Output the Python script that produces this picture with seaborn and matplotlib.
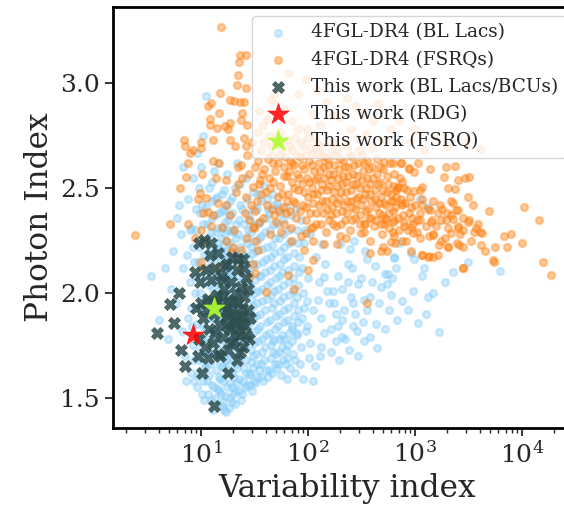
import numpy as np
import pandas as pd
import seaborn as sns
from matplotlib import pyplot as plt

# 4FGL-DR4 BL Lacs: (variability index, photon index)
bllac_left = [(3.4, 2.08), (4.6, 2.12), (4.0, 1.87), (4.9, 1.78), (5.5, 2.20), (6.0, 2.36), (6.8, 2.12),
              (6.5, 2.28), (7.2, 1.58), (7.5, 2.45), (6.8, 2.60), (5.8, 1.95), (7.0, 1.70), (7.8, 2.05),
              (6.2, 2.42), (7.6, 1.88), (5.2, 2.02), (7.9, 2.30), (6.6, 1.82), (7.3, 2.18)]
bllac_core = [(8.1, 1.62), (8.4, 1.75), (8.0, 1.93), (8.7, 2.08), (8.3, 2.22), (8.9, 2.40),
              (9.2, 1.55), (9.6, 1.68), (9.1, 1.85), (9.8, 2.00), (9.4, 2.15), (9.0, 2.30), (9.5, 2.50),
              (10.2, 1.52), (10.6, 1.64), (10.1, 1.78), (10.9, 1.90), (10.4, 2.05), (10.7, 2.18), (10.3, 2.33),
              (9.1, 2.67), (11.0, 2.94), (11.3, 1.58), (11.8, 1.72), (11.1, 1.83), (11.6, 1.96), (11.4, 2.12),
              (11.9, 2.26), (11.2, 2.41), (12.4, 1.49), (12.1, 1.66), (12.8, 1.76), (12.3, 1.88), (12.9, 2.02),
              (12.6, 2.10), (12.2, 2.22), (12.7, 2.36), (12.5, 2.53), (13.3, 1.55), (13.7, 1.70), (13.1, 1.81),
              (13.9, 1.93), (13.5, 2.05), (13.2, 2.16), (13.8, 2.29), (13.4, 2.45), (14.2, 1.47), (14.6, 1.60),
              (14.1, 1.74), (14.8, 1.86), (14.4, 1.99), (14.9, 2.13), (14.3, 2.24), (14.7, 2.38), (15.3, 1.52),
              (15.8, 1.65), (15.1, 1.78), (15.6, 1.90), (15.4, 2.03), (15.9, 2.11), (15.2, 2.20), (15.7, 2.31),
              (15.5, 2.47), (16.4, 1.44), (16.1, 1.58), (16.8, 1.70), (16.3, 1.82), (16.9, 1.95), (16.6, 2.07),
              (16.2, 2.18), (16.7, 2.28), (16.5, 2.40), (17.2, 1.43), (17.7, 1.62), (17.4, 1.75), (17.9, 1.87),
              (17.1, 2.00), (17.6, 2.14), (17.3, 2.25), (17.8, 2.35), (18.4, 1.50), (18.1, 1.66), (18.8, 1.79),
              (18.3, 1.91), (18.6, 2.04), (18.2, 2.17), (18.9, 2.30), (18.5, 2.44), (19.3, 1.55), (19.7, 1.69),
              (19.1, 1.83), (19.8, 1.97), (19.4, 2.09), (19.6, 2.21), (19.2, 2.38), (20.5, 1.47), (20.1, 1.60),
              (21.0, 1.72), (20.7, 1.85), (21.3, 1.98), (20.3, 2.12), (21.1, 2.26), (20.8, 2.50), (22.4, 1.53),
              (21.8, 1.64), (22.9, 1.76), (22.1, 1.89), (23.2, 2.01), (22.6, 2.15), (21.9, 2.28), (23.0, 2.42),
              (24.5, 1.58), (23.8, 1.70), (25.1, 1.82), (24.2, 1.94), (24.8, 2.06), (23.6, 2.19), (25.3, 2.33),
              (26.4, 1.62), (25.9, 1.74), (27.2, 1.86), (26.1, 1.99), (26.9, 2.11), (26.6, 2.24), (27.4, 2.37),
              (26.2, 2.55), (28.3, 1.56), (29.1, 1.67), (27.9, 1.79), (28.8, 1.91), (29.4, 2.03), (28.1, 2.16),
              (29.0, 2.29), (30.6, 1.64), (31.4, 1.76), (30.2, 1.88), (31.9, 2.00), (30.9, 2.13), (31.2, 2.25),
              (30.4, 2.40), (33.5, 1.60), (32.8, 1.71), (34.2, 1.83), (33.1, 1.95), (34.6, 2.08), (32.5, 2.20),
              (33.8, 2.33), (36.2, 1.66), (37.1, 1.78), (35.7, 1.90), (36.8, 2.02), (37.5, 2.15), (35.9, 2.27),
              (36.5, 2.44), (40.3, 1.63), (39.2, 1.74), (41.5, 1.86), (40.8, 1.97), (39.6, 2.10), (41.1, 2.22),
              (40.1, 2.36), (44.5, 1.69), (43.2, 1.81), (45.6, 1.93), (44.1, 2.05), (45.1, 2.17), (43.6, 2.30),
              (48.6, 1.66), (47.3, 1.77), (49.5, 1.89), (48.1, 2.01), (47.8, 2.13), (49.1, 2.26), (48.4, 2.42),
              (53.4, 1.72), (52.1, 1.84), (54.6, 1.96), (53.0, 2.08), (54.1, 2.20), (52.6, 2.33), (58.5, 1.68),
              (57.2, 1.80), (59.6, 1.92), (58.0, 2.04), (59.1, 2.16), (57.6, 2.28), (65.3, 1.75), (63.8, 1.87),
              (66.4, 1.99), (64.6, 2.11), (65.9, 2.24), (72.5, 1.71), (70.8, 1.83), (73.6, 1.95), (71.9, 2.07),
              (72.9, 2.19), (80.4, 1.86), (79.1, 1.98), (81.6, 2.10), (78.5, 2.30)]
bllac_core2 = [(8.5, 1.68), (8.2, 1.84), (8.8, 2.00), (8.6, 2.15), (8.1, 2.31), (9.3, 1.61), (9.7, 1.76),
               (9.2, 1.93), (9.9, 2.08), (9.5, 2.22), (9.8, 2.38), (10.4, 1.58), (10.8, 1.71), (10.3, 1.84),
               (10.6, 1.97), (10.9, 2.11), (10.5, 2.25), (10.2, 2.42), (11.5, 1.52), (11.1, 1.65), (11.7, 1.78),
               (11.3, 1.90), (11.9, 2.04), (11.6, 2.19), (11.4, 2.33), (11.8, 2.50), (12.6, 1.56), (12.3, 1.71),
               (12.9, 1.82), (12.5, 1.95), (12.8, 2.07), (12.2, 2.16), (12.4, 2.29), (12.7, 2.44), (13.4, 1.50),
               (13.9, 1.63), (13.2, 1.76), (13.6, 1.87), (13.8, 1.99), (13.3, 2.11), (13.7, 2.22), (13.5, 2.37),
               (13.1, 2.58), (14.4, 1.54), (14.8, 1.67), (14.2, 1.80), (14.6, 1.93), (14.9, 2.06), (14.3, 2.19),
               (14.5, 2.31), (14.1, 2.46), (15.5, 1.46), (15.1, 1.59), (15.8, 1.72), (15.3, 1.84), (15.9, 1.97),
               (15.6, 2.07), (15.2, 2.16), (15.4, 2.26), (15.7, 2.39), (16.6, 1.51), (16.3, 1.64), (16.9, 1.76),
               (16.5, 1.88), (16.1, 2.01), (16.8, 2.13), (16.4, 2.23), (16.7, 2.34), (16.2, 2.49), (17.5, 1.55),
               (17.2, 1.68), (17.9, 1.81), (17.4, 1.93), (17.7, 2.07), (17.1, 2.20), (17.6, 2.30), (17.3, 2.42),
               (18.6, 1.57), (18.3, 1.72), (18.9, 1.85), (18.1, 1.98), (18.7, 2.10), (18.4, 2.24), (18.2, 2.37),
               (19.5, 1.48), (19.2, 1.62), (19.9, 1.76), (19.4, 1.90), (19.7, 2.03), (19.3, 2.15), (19.8, 2.29),
               (19.6, 2.46), (20.6, 1.53), (21.2, 1.66), (20.4, 1.79), (21.0, 1.92), (20.9, 2.05), (20.2, 2.19),
               (21.3, 2.33), (22.7, 1.59), (22.2, 1.70), (23.1, 1.83), (22.0, 1.95), (22.8, 2.08), (23.3, 2.22),
               (22.4, 2.35), (22.9, 2.52), (24.3, 1.52), (25.0, 1.64), (24.0, 1.76), (24.7, 1.88), (25.2, 2.00),
               (24.4, 2.13), (25.4, 2.26), (24.1, 2.40), (26.8, 1.56), (26.0, 1.68), (27.3, 1.80), (26.5, 1.93),
               (27.0, 2.05), (26.3, 2.18), (27.1, 2.30), (26.7, 2.45), (28.6, 1.62), (29.3, 1.73), (28.2, 1.85),
               (29.0, 1.97), (28.7, 2.09), (29.5, 2.22), (28.4, 2.35), (31.0, 1.58), (30.5, 1.70), (31.6, 1.82),
               (30.8, 1.94), (31.5, 2.06), (30.3, 2.19), (31.1, 2.32), (30.7, 2.48), (33.2, 1.66), (34.0, 1.77),
               (32.6, 1.89), (33.7, 2.01), (32.9, 2.14), (34.4, 2.26), (33.4, 2.40), (36.0, 1.60), (36.9, 1.72),
               (35.5, 1.84), (37.3, 1.96), (36.4, 2.08), (37.0, 2.21), (35.8, 2.34), (39.0, 1.68), (40.6, 1.80),
               (39.8, 1.92), (41.2, 2.04), (40.2, 2.16), (39.4, 2.29), (41.4, 2.45), (43.0, 1.63), (44.8, 1.75),
               (43.9, 1.87), (45.3, 1.99), (44.3, 2.11), (45.8, 2.23), (43.4, 2.38), (47.0, 1.72), (49.0, 1.83),
               (47.6, 1.95), (49.8, 2.07), (48.3, 2.19), (47.2, 2.33), (52.4, 1.66), (54.3, 1.78), (53.2, 1.90),
               (52.0, 2.02), (54.8, 2.14), (53.6, 2.26), (52.8, 2.40), (57.4, 1.74), (59.4, 1.86), (58.2, 1.98),
               (57.0, 2.10), (59.8, 2.22), (58.7, 2.35), (63.2, 1.69), (66.0, 1.81), (64.2, 1.93), (65.6, 2.05),
               (63.6, 2.17), (66.8, 2.30), (70.5, 1.77), (73.2, 1.89), (71.4, 2.01), (74.0, 2.13), (70.2, 2.25),
               (77.8, 1.80), (81.0, 1.92), (79.6, 2.04), (82.3, 2.17), (80.0, 2.24), (86, 1.74), (88, 1.88),
               (90, 2.00), (87, 2.12), (92, 2.24), (95, 1.82), (97, 1.96), (100, 2.07), (93, 2.30)]
bllac_extra = [(8.6, 1.58), (9.4, 1.72), (10.7, 1.49), (11.9, 1.61), (13.0, 1.44), (14.7, 1.53), (16.0, 1.48),
               (18.0, 1.45), (19.9, 1.52), (21.7, 1.57), (23.5, 1.49), (25.7, 1.55), (27.7, 1.61), (29.8, 1.53),
               (32.1, 1.57), (34.8, 1.63), (38.1, 1.58), (41.9, 1.60), (46.2, 1.62), (50.8, 1.64), (55.9, 1.61),
               (61.5, 1.66), (67.7, 1.64), (75.0, 1.68), (84, 1.66), (102, 1.69), (115, 1.65), (128, 1.70),
               (162, 1.72), (195, 1.68), (240, 1.73), (290, 1.70), (34.1, 2.47), (38.6, 2.51), (42.5, 2.40),
               (46.8, 2.47), (51.2, 2.43), (56.3, 2.38), (62.7, 2.41), (69.1, 2.37), (76.4, 2.40), (85.2, 2.35),
               (104, 2.28), (118, 2.17), (125, 2.05), (133, 1.88), (145, 2.14), (158, 1.95), (165, 1.83),
               (188, 2.08), (205, 2.02), (222, 1.78), (238, 2.05), (252, 1.98), (270, 2.25), (285, 1.82),
               (310, 2.07), (325, 1.86), (340, 2.20), (395, 2.05), (455, 1.95), (520, 1.83), (610, 2.07),
               (705, 2.24), (760, 1.96), (860, 1.92), (1150, 2.08), (1250, 1.90), (1900, 2.05), (3100, 2.15),
               (110, 1.58), (75, 1.62), (64, 1.59), (8.4, 2.55), (9.9, 2.60), (14.4, 2.62), (17.5, 2.57),
               (21.5, 2.62), (10.5, 2.75)]
bllac_tail = [(89, 1.59), (437, 1.735), (1660, 1.815), (1070, 1.855), (676, 1.87), (575, 1.92), (912, 2.19),
              (2240, 2.10), (6170, 2.105), (1480, 2.00), (1320, 1.98), (955, 2.01), (661, 2.12), (631, 2.165),
              (417, 2.13), (355, 2.16), (380, 1.98), (331, 1.965), (295, 2.045), (257, 2.12), (234, 2.14),
              (245, 2.21), (200, 2.235), (135, 2.235), (141, 2.075), (170, 2.01), (174, 1.95), (214, 1.92),
              (209, 1.87), (263, 1.84), (331, 1.77), (380, 1.79), (182, 1.77), (209, 1.79), (141, 1.81),
              (132, 1.74), (105, 1.76), (98, 1.84), (79, 1.81), (71, 1.84), (62, 1.73), (59, 1.78), (50, 1.71),
              (48, 1.78), (112, 1.92), (91, 1.93), (123, 1.965), (151, 2.01), (263, 1.95), (479, 2.03),
              (550, 2.045), (525, 2.09), (589, 1.99), (355, 1.92), (427, 1.85), (275, 1.90), (191, 1.84),
              (182, 1.90), (1320, 2.41), (1120, 2.45), (631, 2.17), (980, 2.16), (1200, 2.12), (560, 2.09)]

# 4FGL-DR4 FSRQs
fsrq_left = [(15.2, 3.27), (23, 3.135), (26, 3.135), (22.4, 3.10), (22, 3.04), (21.4, 2.99), (26.3, 2.98),
             (15.1, 2.955), (18.6, 2.92), (20.4, 2.915), (22.9, 2.91), (25.1, 2.91), (12.3, 2.905), (11.5, 2.89),
             (14.8, 2.86), (24, 2.86), (12, 2.83), (18.6, 2.81), (12, 2.80), (14.1, 2.785), (16.6, 2.795),
             (17.8, 2.78), (23.4, 2.825), (6.9, 2.73), (10, 2.72), (7.1, 2.70), (8.3, 2.68), (10, 2.69),
             (12.9, 2.73), (18.6, 2.73), (20.9, 2.70), (26.3, 2.70), (2.4, 2.275), (5.1, 2.33), (7.5, 2.33),
             (6.3, 2.50), (7.6, 2.62), (10.2, 2.57), (7.2, 2.555), (7.9, 2.67), (9.8, 2.475), (9.3, 2.45),
             (11, 2.455), (11.5, 2.385), (10.5, 2.38), (12.9, 2.37), (14.5, 2.43), (17, 2.42), (18.6, 2.37),
             (12.3, 2.32), (15.8, 2.315), (20.4, 2.30), (10, 2.30), (8.7, 2.26), (10.7, 2.25), (17, 2.25),
             (20, 2.22), (23.4, 2.205), (19.1, 2.195), (22.9, 2.12), (10, 2.15), (10.2, 2.12), (14.5, 2.125),
             (12.9, 2.63), (14.8, 2.62), (13.8, 2.55), (17, 2.54), (23.4, 2.61), (28.2, 2.57), (26.3, 2.46),
             (30.2, 2.505), (35.5, 2.54), (21.9, 2.52), (25.7, 2.38), (30.2, 2.315), (26.9, 2.26), (32.4, 2.25),
             (33.9, 2.205), (30.2, 2.14), (28.2, 2.075), (40, 2.005), (73, 2.02), (355, 1.95), (100, 2.11),
             (65, 2.085), (32, 2.095)]
fsrq_main = [(31, 2.31), (33, 2.44), (35, 2.52), (32, 2.60), (36, 2.68), (34, 2.77), (38, 2.36), (40, 2.48),
             (37, 2.57), (42, 2.64), (39, 2.72), (41, 2.83), (44, 2.28), (46, 2.40), (43, 2.55), (47, 2.62),
             (45, 2.70), (50, 2.34), (52, 2.46), (49, 2.58), (54, 2.66), (51, 2.75), (56, 2.29), (58, 2.41),
             (55, 2.51), (60, 2.60), (57, 2.69), (62, 2.38), (65, 2.47), (63, 2.56), (67, 2.63), (64, 2.73),
             (69, 2.31), (72, 2.44), (70, 2.53), (74, 2.61), (71, 2.68), (77, 2.36), (80, 2.49), (78, 2.57),
             (83, 2.65), (81, 2.78), (86, 2.27), (89, 2.42), (87, 2.52), (92, 2.59), (90, 2.70), (95, 2.35),
             (99, 2.46), (97, 2.55), (102, 2.63), (100, 2.74), (106, 2.31), (110, 2.43), (108, 2.50), (113, 2.58),
             (111, 2.67), (118, 2.38), (122, 2.47), (120, 2.55), (126, 2.62), (124, 2.71), (131, 2.33), (136, 2.44),
             (134, 2.52), (140, 2.60), (138, 2.66), (146, 2.29), (151, 2.40), (149, 2.49), (156, 2.57), (154, 2.64),
             (162, 2.37), (168, 2.45), (165, 2.54), (173, 2.61), (171, 2.72), (180, 2.32), (186, 2.43), (184, 2.51),
             (192, 2.59), (189, 2.68), (200, 2.27), (207, 2.39), (204, 2.48), (213, 2.56), (210, 2.63), (222, 2.35),
             (230, 2.44), (227, 2.53), (236, 2.60), (233, 2.70), (246, 2.30), (254, 2.41), (251, 2.49), (262, 2.57),
             (258, 2.65), (272, 2.36), (282, 2.45), (279, 2.52), (290, 2.62), (286, 2.74), (302, 2.33), (312, 2.42),
             (308, 2.50), (322, 2.58), (318, 2.66), (335, 2.29), (346, 2.39), (342, 2.47), (357, 2.55), (352, 2.63),
             (372, 2.36), (385, 2.44), (380, 2.52), (397, 2.60), (392, 2.69), (413, 2.32), (428, 2.41), (422, 2.49),
             (441, 2.57), (436, 2.64), (460, 2.38), (476, 2.46), (470, 2.53), (492, 2.28), (510, 2.43), (503, 2.59),
             (530, 2.35), (548, 2.48), (541, 2.56), (570, 2.31), (590, 2.44), (583, 2.62), (615, 2.39), (640, 2.51),
             (630, 2.27), (665, 2.46), (690, 2.36), (720, 2.55), (750, 2.42), (790, 2.32), (830, 2.49), (870, 2.38),
             (45, 2.92), (60, 2.88), (80, 2.95), (110, 2.86), (150, 2.91), (200, 2.84), (280, 2.89), (400, 2.82),
             (600, 2.78), (900, 2.72), (130, 2.80), (70, 2.82), (55, 2.98), (95, 3.02), (250, 2.78), (350, 2.76),
             (500, 2.73), (1200, 2.68)]
fsrq_main2 = [(21, 2.48), (24, 2.55), (27, 2.66), (29, 2.42), (25, 2.74), (28, 2.35), (22, 2.60), (27, 2.80),
              (30, 2.72), (32, 2.39), (34, 2.63), (36, 2.47), (38, 2.80), (35, 2.34), (39, 2.59), (41, 2.42),
              (43, 2.75), (44, 2.50), (46, 2.66), (48, 2.37), (47, 2.53), (50, 2.71), (52, 2.62), (53, 2.39),
              (55, 2.77), (57, 2.47), (59, 2.56), (61, 2.65), (60, 2.33), (63, 2.44), (66, 2.58), (68, 2.70),
              (67, 2.39), (70, 2.62), (73, 2.50), (75, 2.74), (76, 2.43), (79, 2.66), (82, 2.55), (84, 2.39),
              (85, 2.72), (88, 2.61), (91, 2.48), (93, 2.66), (96, 2.41), (98, 2.78), (101, 2.53), (104, 2.69),
              (105, 2.38), (109, 2.61), (112, 2.47), (115, 2.74), (116, 2.54), (119, 2.33), (123, 2.67), (125, 2.42),
              (128, 2.58), (132, 2.49), (135, 2.70), (137, 2.38), (142, 2.55), (144, 2.65), (148, 2.44), (152, 2.61),
              (155, 2.35), (158, 2.51), (163, 2.68), (166, 2.41), (170, 2.57), (175, 2.48), (178, 2.66), (182, 2.38),
              (188, 2.55), (194, 2.45), (197, 2.64), (202, 2.33), (208, 2.52), (216, 2.42), (219, 2.60), (225, 2.48),
              (232, 2.38), (238, 2.56), (244, 2.66), (249, 2.44), (256, 2.35), (265, 2.52), (270, 2.61), (276, 2.40),
              (285, 2.56), (295, 2.46), (300, 2.68), (305, 2.37), (315, 2.54), (328, 2.45), (332, 2.62), (340, 2.33),
              (350, 2.50), (362, 2.40), (368, 2.59), (378, 2.47), (390, 2.36), (405, 2.55), (418, 2.45), (432, 2.35),
              (448, 2.52), (455, 2.43), (468, 2.60), (485, 2.37), (498, 2.49), (515, 2.33), (535, 2.42), (555, 2.52),
              (575, 2.38), (600, 2.47), (622, 2.34), (650, 2.41), (680, 2.50), (705, 2.30), (735, 2.45), (770, 2.37),
              (810, 2.43), (850, 2.30), (890, 2.46), (940, 2.36), (990, 2.42), (1040, 2.29), (1100, 2.38),
              (1160, 2.45), (1250, 2.32), (1350, 2.27), (1550, 2.32), (1700, 2.42), (1900, 2.26), (2150, 2.37),
              (2600, 2.28), (3300, 2.25), (3900, 2.33), (4500, 2.20), (35, 2.87), (48, 2.95), (65, 3.05),
              (120, 2.97), (170, 2.85), (230, 2.93), (320, 2.86), (450, 2.90), (700, 2.82), (1000, 2.78),
              (1500, 2.75), (2000, 2.70), (3000, 2.72)]
fsrq_right = [(2800, 2.12), (5500, 2.15), (15800, 2.15), (18600, 2.085), (14500, 2.35), (10500, 2.41), (4900, 2.39),
              (10000, 2.24), (7200, 2.22), (5600, 2.22), (6800, 2.27), (7800, 2.28), (4100, 2.23), (2800, 2.22),
              (2040, 2.22), (2450, 2.24), (1620, 2.18), (1350, 2.175), (1170, 2.18), (912, 2.20), (550, 2.20),
              (479, 2.20), (380, 2.19), (813, 2.25), (646, 2.24), (1480, 2.28), (1740, 2.25), (2140, 2.285),
              (2510, 2.32), (3160, 2.35), (3550, 2.29), (4170, 2.285), (1950, 2.35), (1410, 2.34), (1050, 2.35),
              (912, 2.315), (3470, 2.42), (2400, 2.395), (1620, 2.38), (1320, 2.40), (2240, 2.43), (380, 2.25),
              (309, 2.285), (224, 2.26), (186, 2.235), (141, 2.235), (112, 2.25), (95, 2.285), (112, 2.315),
              (170, 2.33), (331, 2.33), (479, 2.33), (617, 2.29), (112, 2.155), (91, 2.205), (69, 2.25),
              (3090, 2.46), (3160, 2.555), (2510, 2.54), (2340, 2.605), (1950, 2.60), (1860, 2.555), (2040, 2.50),
              (2340, 2.495), (2140, 2.44), (1780, 2.40), (1480, 2.44), (1120, 2.49), (977, 2.485), (794, 2.50),
              (661, 2.49), (1070, 2.62), (871, 2.595), (977, 2.575), (741, 2.62), (617, 2.62), (513, 2.625),
              (631, 2.57), (759, 2.53), (617, 2.44), (741, 2.43), (912, 2.41), (1170, 2.42), (1380, 2.395),
              (2510, 2.395), (2000, 2.38), (2240, 2.355), (2820, 2.36), (3090, 2.34), (3720, 2.31), (4070, 2.29),
              (2820, 2.30), (2510, 2.31), (2040, 2.31), (1740, 2.35), (1450, 2.35), (1120, 2.35), (955, 2.33),
              (794, 2.34), (631, 2.35), (525, 2.36), (2820, 2.12), (5370, 2.155), (1480, 2.17), (1320, 2.17),
              (1170, 2.18), (1660, 2.23), (2040, 2.22), (2570, 2.23), (1120, 2.26), (1480, 2.275), (955, 2.285),
              (759, 2.25), (589, 2.245), (501, 2.22), (4070, 2.685), (2950, 2.55), (1170, 2.505), (1380, 2.59),
              (871, 2.59), (692, 2.505), (741, 2.62)]

# this work
cand_blcu = [(3.9, 1.81), (5.1, 1.945), (6.2, 2.0), (5.6, 1.855), (6.5, 1.73), (7.1, 1.65), (10.2, 1.62),
             (13.2, 1.46), (17.8, 1.62), (11.5, 1.69), (21.4, 1.68), (9.5, 2.24), (12.3, 2.24), (10.7, 2.255),
             (24.5, 2.16), (9.0, 1.93), (9.5, 1.78), (9.8, 2.05), (10.5, 1.88), (10.8, 1.74), (11.2, 2.11),
             (11.6, 1.97), (11.9, 1.83), (12.4, 2.06), (12.8, 1.76), (13.1, 1.90), (13.6, 2.12), (14.0, 1.99),
             (14.3, 1.71), (14.8, 1.85), (15.2, 2.08), (15.6, 1.94), (16.1, 1.79), (16.5, 2.02), (16.9, 1.88),
             (17.4, 2.14), (17.8, 1.73), (18.2, 1.96), (18.7, 1.83), (19.1, 2.05), (19.6, 1.91), (20.2, 1.77),
             (20.6, 2.00), (21.2, 1.86), (21.7, 2.11), (22.3, 1.95), (22.8, 1.80), (23.4, 2.03), (23.9, 1.89),
             (24.6, 1.74), (25.3, 1.98), (25.8, 1.84), (26.5, 2.07), (27.2, 1.92), (27.9, 1.78), (28.5, 1.88),
             (12.0, 2.18), (14.5, 2.19), (16.8, 2.13), (19.5, 2.17), (22.0, 2.16), (13.5, 1.81), (15.0, 1.70),
             (17.0, 1.92), (20.0, 1.96), (23.0, 1.72), (11.0, 1.92), (18.0, 1.90), (21.0, 1.82), (24.0, 1.93),
             (26.0, 1.80), (16.0, 2.06), (12.5, 1.96), (10.0, 1.95), (25.0, 2.12), (9.3, 1.70), (8.8, 2.10),
             (14.2, 1.95), (19.0, 1.76), (22.5, 1.89), (27.5, 2.02), (15.5, 1.98), (17.5, 1.84), (20.5, 1.86),
             (24.2, 1.85)]
cand_rdg = [(8.3, 1.80)]
cand_fsrq = [(13.2, 1.93)]


def to_df(*lists):
    rows = [p for lst in lists for p in lst]
    return pd.DataFrame(rows, columns=["var", "gamma"])


sns.set_style("ticks")
plt.rcParams["font.family"] = ["DejaVu Serif"]
plt.rcParams["mathtext.fontset"] = "dejavuserif"

fig = plt.figure(figsize=(5.64, 5.15), dpi=100)
ax = fig.add_axes([0.2004, 0.1695, 0.8287, 0.8175])

sns.scatterplot(data=to_df(bllac_left, bllac_core, bllac_core2, bllac_extra, bllac_tail), x="var", y="gamma",
                ax=ax, color="lightskyblue", edgecolor="lightskyblue", linewidth=1.6, s=26, alpha=0.4,
                label="4FGL-DR4 (BL Lacs)")
sns.scatterplot(data=to_df(fsrq_left, fsrq_main, fsrq_main2, fsrq_right), x="var", y="gamma", ax=ax,
                color="#ff7f0e", edgecolor="#ff7f0e", linewidth=1.6, s=26, alpha=0.4,
                label="4FGL-DR4 (FSRQs)")
sns.scatterplot(data=to_df(cand_blcu), x="var", y="gamma", ax=ax, marker="X",
                color="darkslategray", edgecolor="darkslategray", linewidth=0.5, s=75, alpha=0.85,
                label="This work (BL Lacs/BCUs)")
sns.scatterplot(data=to_df(cand_rdg), x="var", y="gamma", ax=ax, marker="*",
                color="red", edgecolor="red", linewidth=0.5, s=260, alpha=0.85,
                label="This work (RDG)")
sns.scatterplot(data=to_df(cand_fsrq), x="var", y="gamma", ax=ax, marker="*",
                color="greenyellow", edgecolor="greenyellow", linewidth=0.5, s=260, alpha=0.9,
                label="This work (FSRQ)")

ax.set_xscale("log")
ax.set_xlim(1.5, 3.5e4)
ax.set_ylim(1.357, 3.366)
ax.set_yticks([1.5, 2.0, 2.5, 3.0])
ax.set_xlabel("Variability index", fontsize=22.5)
ax.set_ylabel("Photon Index", fontsize=22.5)
ax.tick_params(which="major", labelsize=18, length=6, width=1.3)
ax.tick_params(which="minor", length=3.5, width=1.0)
for sp in ax.spines.values():
    sp.set_linewidth(2)
    sp.set_color("black")

ax.legend(loc="upper left", bbox_to_anchor=(252 / 564, 1 - 16 / 515), bbox_transform=fig.transFigure,
          borderaxespad=0, fontsize=13.3, frameon=True, framealpha=0.8)

plt.savefig("out.png", dpi=100)
